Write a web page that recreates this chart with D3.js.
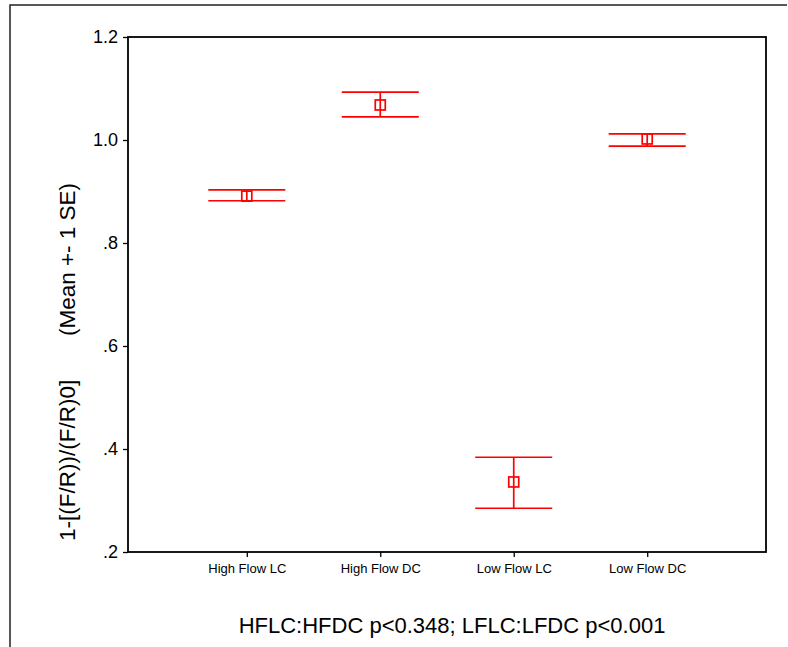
<!DOCTYPE html>
<html>
<head>
<meta charset="utf-8">
<script src="https://cdn.jsdelivr.net/npm/d3@7"></script>
<style>
  body { margin: 0; background: #fff; }
  svg { display: block; font-family: "Liberation Sans", Arial, sans-serif; }
</style>
</head>
<body>
<svg id="chart" width="788" height="647"></svg>
<script>
// groups and their mean +- 1 SE
const groups = ['High Flow LC', 'High Flow DC', 'Low Flow LC', 'Low Flow DC'];
const means = [0.891, 1.068, 0.336, 1.002];
const upper = [0.903, 1.093, 0.384, 1.012];
const lower = [0.882, 1.045, 0.285, 0.988];
const yTicks = [1.2, 1.0, 0.8, 0.6, 0.4, 0.2];
const yTickLabels = ['1.2', '1.0', '.8', '.6', '.4', '.2'];

const svg = d3.select('#chart');
const margin = { top: 37, right: 22, bottom: 95, left: 128 };
const width = 788 - margin.left - margin.right;
const height = 647 - margin.top - margin.bottom;

// outer frame (left and top edges only visible)
svg.append('path')
  .attr('d', 'M10,647 L10,5 L787,5')
  .attr('fill', 'none')
  .attr('stroke', '#222')
  .attr('stroke-width', 1.5);

const chart = svg.append('g')
  .attr('transform', `translate(${margin.left},${margin.top})`);

const x = d3.scalePoint()
  .domain(groups)
  .range([0, width])
  .padding(0.89);

const y = d3.scaleLinear()
  .domain([0.2, 1.2])
  .range([height, 0]);

// plot frame
chart.append('rect')
  .attr('width', width)
  .attr('height', height)
  .attr('fill', 'none')
  .attr('stroke', '#000')
  .attr('stroke-width', 1.8);

// axes
const yAxis = chart.append('g')
  .call(d3.axisLeft(y)
    .tickValues(yTicks)
    .tickFormat((d, i) => yTickLabels[i])
    .tickSize(5)
    .tickPadding(5));

const xAxis = chart.append('g')
  .attr('transform', `translate(0,${height})`)
  .call(d3.axisBottom(x).tickSize(5).tickPadding(7));

[yAxis, xAxis].forEach(a => {
  a.select('.domain').remove();
  a.selectAll('line').attr('stroke', '#000').attr('stroke-width', 1.3);
  a.selectAll('text').attr('fill', '#000').attr('font-family', '"Liberation Sans", Arial, sans-serif');
});
yAxis.selectAll('text').attr('font-size', 18);
xAxis.selectAll('text').attr('font-size', 13);

// error bars
const capHalf = 38.5;
const red = '#ff0000';
const bars = chart.selectAll('.err')
  .data(groups.map((g, i) => ({ g, m: means[i], hi: upper[i], lo: lower[i] })))
  .enter().append('g')
  .attr('class', 'err');

bars.append('line')
  .attr('x1', d => x(d.g)).attr('x2', d => x(d.g))
  .attr('y1', d => y(d.hi)).attr('y2', d => y(d.lo))
  .attr('stroke', red).attr('stroke-width', 1.7);

bars.append('line')
  .attr('x1', d => x(d.g) - capHalf).attr('x2', d => x(d.g) + capHalf)
  .attr('y1', d => y(d.hi)).attr('y2', d => y(d.hi))
  .attr('stroke', red).attr('stroke-width', 1.7);

bars.append('line')
  .attr('x1', d => x(d.g) - capHalf).attr('x2', d => x(d.g) + capHalf)
  .attr('y1', d => y(d.lo)).attr('y2', d => y(d.lo))
  .attr('stroke', red).attr('stroke-width', 1.7);

bars.append('rect')
  .attr('x', d => x(d.g) - 5)
  .attr('y', d => y(d.m) - 5)
  .attr('width', 10).attr('height', 10)
  .attr('fill', 'none')
  .attr('stroke', red).attr('stroke-width', 1.7);

// y label
svg.append('text')
  .attr('transform', 'translate(75,362) rotate(-90)')
  .attr('text-anchor', 'middle')
  .attr('font-size', 22.5)
  .style('white-space', 'pre')
  .text('1-[(F/R))/(F/R)0]       (Mean +- 1 SE)');

// caption
svg.append('text')
  .attr('x', 452)
  .attr('y', 633)
  .attr('text-anchor', 'middle')
  .attr('font-size', 22)
  .text('HFLC:HFDC p<0.348; LFLC:LFDC p<0.001');
</script>
</body>
</html>
